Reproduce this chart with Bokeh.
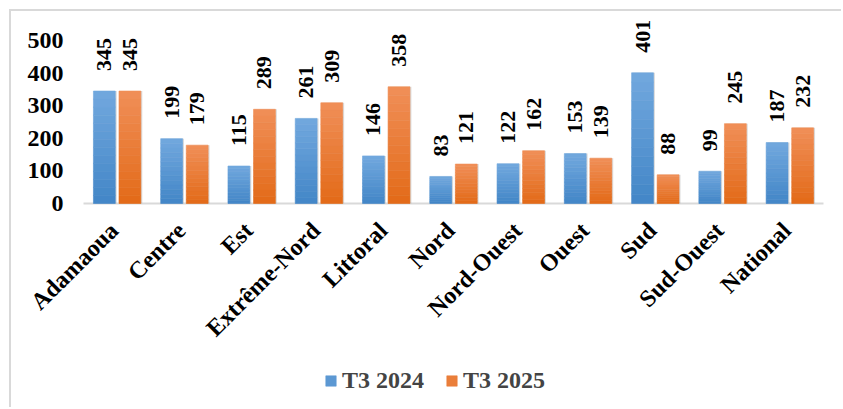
from math import pi
from bokeh.plotting import figure
from bokeh.models import ColumnDataSource, Legend, LegendItem, Range1d
from bokeh.embed import file_html
from bokeh.resources import INLINE

# ---- data ----
regions = ["Adamaoua", "Centre", "Est", "Extrême-Nord", "Littoral", "Nord",
           "Nord-Ouest", "Ouest", "Sud", "Sud-Ouest", "National"]
t3_2024 = [345, 199, 115, 261, 146, 83, 122, 153, 401, 99, 187]
t3_2025 = [345, 179, 289, 309, 358, 121, 162, 139, 88, 245, 232]
series_names = ["T3 2024", "T3 2025"]
y_ticks = [0, 100, 200, 300, 400, 500]

FONT = "Liberation Serif"

# ---- layout (pixels) ----
W, H = 832, 398          # canvas size
CAT_PX = 67.27           # width of one category
LEFT_PAD = 72            # space left of first category (y labels live there)
RIGHT_PAD = 20
ZERO_PX = 192            # distance from canvas top to the value 0
PX_PER_UNIT = 163 / 500

n = len(regions)
xs = list(range(n))
x_start = -0.5 - LEFT_PAD / CAT_PX
x_end = n - 0.5 + RIGHT_PAD / CAT_PX
y_top = ZERO_PX / PX_PER_UNIT
y_bot = -(H - ZERO_PX) / PX_PER_UNIT

p = figure(x_range=Range1d(x_start, x_end), y_range=Range1d(y_bot, y_top),
           width=W, height=H, output_backend="svg", toolbar_location=None,
           min_border=0)
p.styles = {"border-top": "2px solid #d9d9d9", "border-left": "2px solid #d9d9d9",
            "margin-left": "9px", "margin-top": "9px"}
p.outline_line_color = None
p.xgrid.visible = False
p.ygrid.visible = False
p.xaxis.visible = False
p.yaxis.visible = False

# x axis line at 0, spanning the categories
p.segment(x0=[-0.5], y0=[0], x1=[n - 0.5], y1=[0], line_color="#d9d9d9", line_width=2)

# gradient colours (bottom -> top)
grads = [((66, 134, 199), (114, 168, 222)), ((226, 106, 24), (241, 143, 88))]
offsets = [-0.19, 0.19]
N = 14
bw = 0.325

legend_items = []
for s, vals in enumerate([t3_2024, t3_2025]):
    (r0, g0, b0), (r1, g1, b1) = grads[s]
    bx = [x + offsets[s] for x in xs]
    shadow = ColumnDataSource(dict(x=[x + 0.022 for x in bx], top=vals))
    p.vbar(x="x", top="top", width=bw, source=shadow, fill_color="#9a9a9a",
           fill_alpha=0.35, line_color=None)
    mid_r = None
    for k in range(N):
        f = (k + 0.5) / N
        col = "#%02x%02x%02x" % (round(r0 + (r1 - r0) * f), round(g0 + (g1 - g0) * f),
                                 round(b0 + (b1 - b0) * f))
        src = ColumnDataSource(dict(x=bx,
                                    bottom=[v * k / N for v in vals],
                                    top=[v * (k + 1) / N for v in vals]))
        r = p.vbar(x="x", bottom="bottom", top="top", width=bw, source=src,
                   fill_color=col, line_color=col, line_width=0.6)
        if k == N // 2:
            mid_r = r
    legend_items.append(LegendItem(label=series_names[s], renderers=[mid_r]))

    lab = ColumnDataSource(dict(x=bx, v=vals, t=[str(v) for v in vals]))
    p.text(x="x", y="v", text="t", source=lab,
           angle=pi / 2, text_align="left", text_baseline="middle", y_offset=-20,
           text_font={"value": FONT}, text_font_style="bold",
           text_font_size="22px", text_color="black")

# category labels
cat_src = ColumnDataSource(dict(x=xs, y=[0] * n, t=regions))
p.text(x="x", y="y", text="t", source=cat_src, angle=pi / 4,
       text_align="right", text_baseline="middle", x_offset=-3, y_offset=23,
       text_font={"value": FONT}, text_font_style="bold", text_font_size="24px",
       text_color="black")

# y tick labels
ytk = ColumnDataSource(dict(x=[x_start] * len(y_ticks), y=y_ticks,
                            t=[str(v) for v in y_ticks]))
p.text(x="x", y="y", text="t", source=ytk, text_align="right",
       text_baseline="middle", x_offset=52,
       text_font={"value": FONT}, text_font_style="bold", text_font_size="24px",
       text_color="black")

legend = Legend(items=legend_items, location=(313, 15), orientation="horizontal",
                border_line_color=None, background_fill_alpha=0,
                label_text_font=FONT, label_text_font_style="bold",
                label_text_font_size="24px", glyph_width=13, glyph_height=13,
                label_standoff=5, spacing=21, padding=0, margin=0)
p.add_layout(legend, "center")

open("out.html", "w").write(file_html(p, INLINE))
